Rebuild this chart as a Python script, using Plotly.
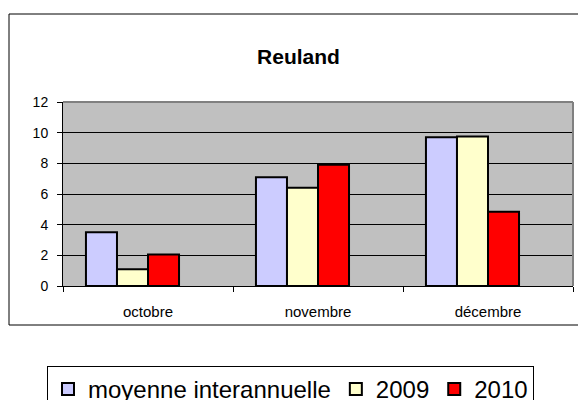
import plotly.graph_objects as go

months = ["octobre", "novembre", "décembre"]
moyenne = [3.5, 7.1, 9.7]
y2009 = [1.1, 6.4, 9.75]
y2010 = [2.05, 7.9, 4.85]
series_names = ["moyenne interannuelle", "2009", "2010"]
colors = ["#CCCCFF", "#FFFFCC", "#FF0000"]
y_ticks = [0, 2, 4, 6, 8, 10, 12]

W, H = 578, 400
L, R, T, B = 63, 5, 102, 114
pw, ph = W - L - R, H - T - B

def px(x):
    return (x - L) / pw

def py(y):
    return (H - B - y) / ph

fig = go.Figure()
for name, vals, col in zip(series_names, [moyenne, y2009, y2010], colors):
    fig.add_trace(go.Bar(x=months, y=vals, name=name,
                         marker=dict(color=col, line=dict(color="black", width=2))))
# empty fourth series slot (as in the original spreadsheet chart)
fig.add_trace(go.Bar(x=months, y=[None, None, None], showlegend=False, hoverinfo="skip"))

fig.update_layout(
    width=W, height=H,
    margin=dict(l=L, r=R, t=T, b=B, autoexpand=False),
    paper_bgcolor="white", plot_bgcolor="#C0C0C0",
    barmode="group", bargap=0.27, bargroupgap=0,
    font=dict(family="Liberation Sans, Arial, sans-serif", color="black"),
    title=dict(text="<b>Reuland</b>", x=px(298.5), xanchor="center", xref="paper",
               y=1 - 57 / H, yanchor="middle", font=dict(size=21)),
    showlegend=True,
    legend=dict(orientation="h", x=px(47), xanchor="left", y=py(366), yanchor="top",
                bordercolor="black", borderwidth=1, font=dict(size=24),
                bgcolor="white", traceorder="normal"),
    xaxis=dict(showline=True, linecolor="black", linewidth=1, ticks="outside",
               tickson="boundaries", ticklen=5, tickcolor="black",
               tickfont=dict(size=15), ticklabelstandoff=12, showgrid=False),
    yaxis=dict(range=[0, 12], tickvals=y_ticks, showline=True, linecolor="black",
               linewidth=1, ticks="outside", ticklen=5, tickcolor="black",
               gridcolor="black", gridwidth=1, tickfont=dict(size=14),
               ticklabelstandoff=6, zeroline=False),
    shapes=[
        dict(type="rect", xref="paper", yref="paper", x0=px(9), x1=px(590),
             y0=py(325), y1=py(14), line=dict(color="black", width=1), layer="below"),
        dict(type="line", xref="paper", yref="paper", x0=0, x1=1, y0=1, y1=1,
             line=dict(color="#808080", width=2)),
        dict(type="line", xref="paper", yref="paper", x0=1, x1=1, y0=0, y1=1,
             line=dict(color="#808080", width=2)),
    ],
)

fig.write_html("out.html", config={"displayModeBar": False},
               post_script="document.body.style.margin='0';document.body.style.overflow='hidden';")
